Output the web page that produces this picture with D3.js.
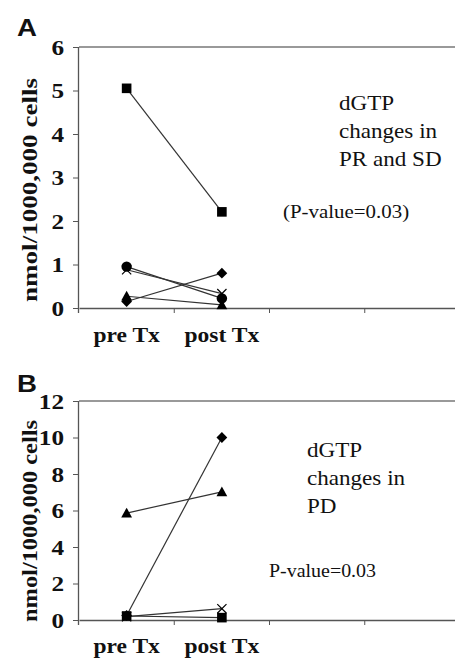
<!DOCTYPE html>
<html>
<head>
<meta charset="utf-8">
<script src="https://cdn.jsdelivr.net/npm/d3@7"></script>
<style>
  html, body { margin: 0; padding: 0; background: #fff; }
  svg { display: block; }
  .serif { font-family: "Liberation Serif", "Times New Roman", Times, serif; }
  .sans { font-family: "Liberation Sans", Arial, Helvetica, sans-serif; }
</style>
</head>
<body>
<script>
// ---------- data ----------
const categories = ["pre", "post", "c3", "c4"];
const tickLabels = ["pre Tx", "post Tx", "", ""];

// Panel A (PR and SD)
const aSquare   = [5.05, 2.21];
const aCircle   = [0.95, 0.22];
const aCross    = [0.88, 0.33];
const aDiamond  = [0.15, 0.80];
const aTriangle = [0.27, 0.07];
const yTicksA = [0, 1, 2, 3, 4, 5, 6];

// Panel B (PD)
const bSquare   = [0.22, 0.13];
const bCross    = [0.18, 0.62];
const bDiamond  = [0.25, 10.0];
const bTriangle = [5.86, 7.02];
const yTicksB = [0, 2, 4, 6, 8, 10, 12];

const W = 455, H = 658;
const svg = d3.select("body").append("svg").attr("width", W).attr("height", H);

const SX = 1.2;

const x = d3.scaleBand().domain(categories).range([79, 460]).paddingInner(0).paddingOuter(0);

function marker(g, type, cx, cy) {
  const s = 4.8;
  if (type === "square") {
    g.append("rect").attr("x", cx - s).attr("y", cy - s).attr("width", 2 * s).attr("height", 2 * s).attr("fill", "#000");
  } else if (type === "circle") {
    g.append("circle").attr("cx", cx).attr("cy", cy).attr("r", 5.2).attr("fill", "#000");
  } else if (type === "diamond") {
    const d = 5.4;
    g.append("path").attr("d", `M${cx},${cy - d}L${cx + d},${cy}L${cx},${cy + d}L${cx - d},${cy}Z`).attr("fill", "#000");
  } else if (type === "triangle") {
    const d = 5.4;
    g.append("path").attr("d", `M${cx},${cy - d}L${cx + d},${cy + d * 0.8}L${cx - d},${cy + d * 0.8}Z`).attr("fill", "#000");
  } else if (type === "cross") {
    const d = 4.6;
    g.append("path").attr("d", `M${cx - d},${cy - d}L${cx + d},${cy + d}M${cx + d},${cy - d}L${cx - d},${cy + d}`)
      .attr("stroke", "#000").attr("stroke-width", 1.2).attr("fill", "none");
  }
}

function stretchedText(g, str, tx, ty, opts) {
  return g.append("text")
    .attr("class", opts.cls || "serif")
    .attr("transform", `translate(${tx},${ty}) scale(${opts.sx || 1},1)`)
    .style("font-size", opts.size + "px")
    .style("font-weight", opts.weight || "normal")
    .attr("text-anchor", opts.anchor || "start")
    .attr("fill", "#111")
    .text(str);
}

function panel(cfg) {
  const g = svg.append("g");
  const y = d3.scaleLinear().domain(cfg.domain).range([cfg.bottom, cfg.top]);

  // top border line
  g.append("line").attr("x1", 79).attr("x2", 460).attr("y1", cfg.top).attr("y2", cfg.top)
    .attr("stroke", "#777").attr("stroke-width", 1.3);

  // y axis
  const ya = g.append("g").attr("transform", "translate(79,0)")
    .call(d3.axisLeft(y).tickValues(cfg.ticks).tickSize(6).tickPadding(4).tickFormat(d3.format("d")));
  ya.attr("font-family", null).attr("font-size", null);
  ya.select(".domain").attr("stroke", "#555").attr("stroke-width", 1.3)
    .attr("d", `M-0.5,${cfg.top}V${cfg.bottom + 5}`);
  ya.selectAll(".tick line").attr("stroke", "#555");
  ya.selectAll(".tick text")
    .attr("class", "serif")
    .style("font-size", "21px").style("font-weight", "bold").attr("fill", "#111")
    .attr("transform", `scale(${SX},1)`).attr("x", -15 / SX).attr("dy", "0.34em");

  // x axis
  const xa = g.append("g").attr("transform", `translate(0,${cfg.bottom})`)
    .call(d3.axisBottom(x).tickSize(0).tickFormat((d, i) => tickLabels[i]));
  xa.select(".domain").attr("stroke", "#555").attr("stroke-width", 1.3);
  xa.selectAll(".tick text").remove();
  // boundary ticks between categories
  const bounds = categories.map(c => x(c)).slice(1);
  g.selectAll(null).data(bounds).enter().append("line")
    .attr("x1", d => d).attr("x2", d => d).attr("y1", cfg.bottom).attr("y2", cfg.bottom + 5)
    .attr("stroke", "#555").attr("stroke-width", 1);
  categories.forEach((c, i) => {
    if (tickLabels[i]) {
      stretchedText(g, tickLabels[i], x(c) + x.bandwidth() / 2, cfg.labelY,
        { size: 21, weight: "bold", anchor: "middle", sx: 1.12 });
    }
  });

  // y title
  g.append("text")
    .attr("class", "serif")
    .attr("transform", `translate(${cfg.titleX},${(cfg.titleTop + cfg.titleBottom) / 2}) rotate(-90)`)
    .style("font-size", "21px").style("font-weight", "bold")
    .attr("text-anchor", "middle").attr("fill", "#111")
    .attr("textLength", cfg.titleBottom - cfg.titleTop).attr("lengthAdjust", "spacingAndGlyphs")
    .text("nmol/1000,000 cells");

  // panel letter
  stretchedText(g, cfg.letter, 17, cfg.letterY, { cls: "sans", size: 24, weight: "bold", sx: 1.15 });

  // series lines
  const line = d3.line().x((d, i) => x(categories[i]) + x.bandwidth() / 2).y(d => y(d));
  cfg.series.forEach(s => {
    g.append("path").attr("d", line(s.values)).attr("fill", "none")
      .attr("stroke", "#333").attr("stroke-width", 1.2);
  });
  cfg.series.forEach(s => {
    s.values.forEach((v, i) => marker(g, s.marker, x(categories[i]) + x.bandwidth() / 2, y(v)));
  });

  // annotation
  cfg.notes.forEach(n => stretchedText(g, n.text, n.x, n.y, { size: n.size, sx: n.sx || 1 }));
}

panel({
  letter: "A", letterY: 36,
  top: 47, bottom: 308, domain: [0, 6], ticks: yTicksA,
  labelY: 342, titleX: 37, titleTop: 78, titleBottom: 302,
  series: [
    { marker: "square", values: aSquare },
    { marker: "circle", values: aCircle },
    { marker: "cross", values: aCross },
    { marker: "diamond", values: aDiamond },
    { marker: "triangle", values: aTriangle }
  ],
  notes: [
    { text: "dGTP", x: 339, y: 110, size: 21, sx: 1.1 },
    { text: "changes in", x: 339, y: 138, size: 21, sx: 1.1 },
    { text: "PR and SD", x: 339, y: 166, size: 21, sx: 1.1 },
    { text: "(P-value=0.03)", x: 283, y: 218, size: 19, sx: 1.1 }
  ]
});

panel({
  letter: "B", letterY: 392,
  top: 401, bottom: 620, domain: [0, 12], ticks: yTicksB,
  labelY: 653, titleX: 37, titleTop: 420, titleBottom: 622,
  series: [
    { marker: "diamond", values: bDiamond },
    { marker: "triangle", values: bTriangle },
    { marker: "cross", values: bCross },
    { marker: "square", values: bSquare }
  ],
  notes: [
    { text: "dGTP", x: 307, y: 457, size: 21, sx: 1.1 },
    { text: "changes in", x: 307, y: 485, size: 21, sx: 1.1 },
    { text: "PD", x: 307, y: 513, size: 21, sx: 1.1 },
    { text: "P-value=0.03", x: 269, y: 577, size: 19, sx: 1.05 }
  ]
});
</script>
</body>
</html>
